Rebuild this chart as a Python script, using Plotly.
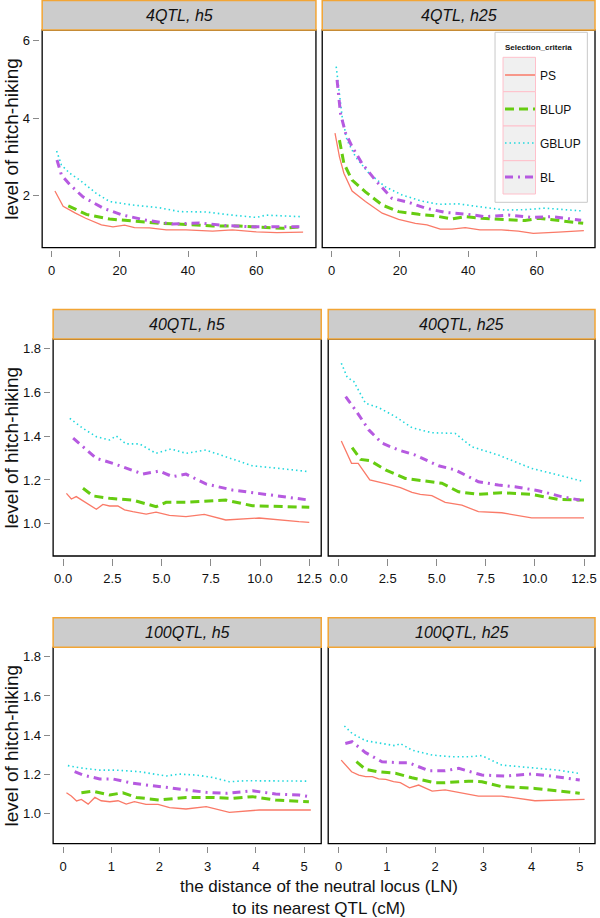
import plotly.graph_objects as go

W, H = 600, 918
FONT = "Liberation Sans, Arial, Helvetica, sans-serif"

methods = ["PS", "BLUP", "GBLUP", "BL"]
panel_titles = ["4QTL, h5", "4QTL, h25", "40QTL, h5", "40QTL, h25", "100QTL, h5", "100QTL, h25"]

# ---------------- data: 4QTL, h5 ----------------
q4h5_ps_x = [1, 3.4, 7, 10, 14.6, 18, 21.4, 24.3, 28.7, 33.6, 39.4, 47.2, 53, 60, 66, 73.7]
q4h5_ps_y = [2.12, 1.73, 1.55, 1.42, 1.25, 1.20, 1.24, 1.18, 1.17, 1.12, 1.12, 1.09, 1.12, 1.07, 1.05, 1.06]
q4h5_blup_x = [4.9, 10.2, 17, 23.8, 31.6, 39.4, 47.2, 55, 62.8, 67.6, 73.5]
q4h5_blup_y = [1.74, 1.52, 1.40, 1.35, 1.29, 1.26, 1.22, 1.22, 1.19, 1.16, 1.20]
q4h5_gblup_x = [1.5, 2.9, 5.3, 8.3, 13.1, 17, 23.8, 31.6, 37.5, 45.2, 53, 60, 62.8, 69.6, 73]
q4h5_gblup_y = [3.15, 2.79, 2.58, 2.40, 2.06, 1.85, 1.76, 1.69, 1.59, 1.58, 1.50, 1.44, 1.50, 1.48, 1.46]
q4h5_bl_x = [1.6, 2.9, 5.3, 9.2, 15.1, 20.9, 27.7, 35.5, 43.3, 51.1, 58.9, 65.7, 73]
q4h5_bl_y = [2.92, 2.53, 2.29, 1.97, 1.68, 1.50, 1.37, 1.27, 1.30, 1.23, 1.20, 1.20, 1.20]

# ---------------- data: 4QTL, h25 ----------------
q4h25_ps_x = [1.0, 2.3, 3.6, 6.0, 9.9, 14.8, 19.6, 24.5, 27.9, 31.8, 35.2, 39.1, 43.4, 49.7, 54.6, 59, 66.3, 73.8]
q4h25_ps_y = [3.61, 3.00, 2.58, 2.12, 1.85, 1.55, 1.39, 1.29, 1.25, 1.14, 1.14, 1.18, 1.12, 1.12, 1.09, 1.03, 1.06, 1.10]
q4h25_blup_x = [2.3, 3.6, 6.0, 9.9, 14.8, 19.6, 25.5, 30.3, 35.2, 39.1, 43.9, 49.7, 56.6, 60.4, 66.3, 73.6]
q4h25_blup_y = [3.43, 2.83, 2.40, 2.10, 1.76, 1.59, 1.52, 1.48, 1.40, 1.46, 1.42, 1.40, 1.36, 1.42, 1.36, 1.29]
q4h25_gblup_x = [1.35, 2.1, 3.1, 4.5, 7.0, 10.9, 15.7, 20.6, 26.4, 31.3, 37.1, 42.9, 50.7, 56.6, 62.4, 68.2, 73]
q4h25_gblup_y = [5.32, 4.72, 4.03, 3.43, 3.00, 2.58, 2.23, 2.02, 1.86, 1.78, 1.79, 1.72, 1.63, 1.64, 1.68, 1.64, 1.61]
q4h25_bl_x = [1.6, 2.6, 4.1, 6.0, 8.9, 12.8, 17.7, 22.5, 27.4, 33.2, 40, 44.9, 51.7, 58.5, 64.3, 73]
q4h25_bl_y = [4.98, 4.12, 3.61, 3.26, 2.83, 2.40, 1.93, 1.83, 1.68, 1.57, 1.52, 1.46, 1.50, 1.44, 1.46, 1.37]

# ---------------- data: 40QTL, h5 ----------------
q40h5_ps_x = [0.17, 0.42, 0.67, 1.18, 1.69, 2.02, 2.36, 2.78, 3.12, 3.54, 4.22, 4.72, 5.40, 6.24, 7.17, 8.26, 9.95, 11.97, 12.5]
q40h5_ps_y = [1.139, 1.113, 1.124, 1.093, 1.066, 1.088, 1.081, 1.081, 1.063, 1.055, 1.044, 1.053, 1.038, 1.032, 1.043, 1.017, 1.026, 1.009, 1.006]
q40h5_blup_x = [1.01, 1.52, 2.36, 3.54, 4.72, 5.23, 6.24, 7.42, 8.26, 9.61, 11.13, 12.5]
q40h5_blup_y = [1.162, 1.127, 1.116, 1.108, 1.078, 1.098, 1.098, 1.104, 1.108, 1.082, 1.078, 1.075]
q40h5_gblup_x = [0.34, 1.01, 1.69, 2.36, 2.70, 3.20, 3.88, 4.72, 5.48, 6.24, 7.25, 8.26, 9.61, 10.96, 12.5]
q40h5_gblup_y = [1.482, 1.436, 1.398, 1.383, 1.401, 1.365, 1.365, 1.322, 1.342, 1.322, 1.337, 1.307, 1.265, 1.253, 1.238]
q40h5_bl_x = [0.51, 1.18, 1.69, 2.53, 3.20, 4.05, 4.89, 5.56, 6.24, 7.25, 8.60, 9.95, 11.3, 12.5]
q40h5_bl_y = [1.391, 1.337, 1.299, 1.276, 1.253, 1.227, 1.241, 1.215, 1.227, 1.182, 1.154, 1.139, 1.124, 1.108]

# ---------------- data: 40QTL, h25 ----------------
q40h25_ps_x = [0.14, 0.66, 1.0, 1.59, 2.55, 3.15, 3.74, 4.16, 4.75, 5.43, 6.28, 7.12, 8.31, 9.83, 12.5]
q40h25_ps_y = [1.378, 1.276, 1.276, 1.200, 1.180, 1.165, 1.143, 1.134, 1.128, 1.098, 1.085, 1.055, 1.050, 1.027, 1.027]
q40h25_blup_x = [0.69, 1.12, 1.62, 2.39, 3.4, 3.99, 5.26, 6.11, 7.12, 8.31, 9.83, 11.18, 12.5]
q40h25_blup_y = [1.348, 1.294, 1.288, 1.246, 1.207, 1.200, 1.185, 1.146, 1.134, 1.142, 1.134, 1.111, 1.108]
q40h25_gblup_x = [0.14, 0.44, 0.78, 1.37, 2.05, 2.89, 3.74, 4.75, 5.94, 6.78, 8.14, 9.83, 11.18, 12.5]
q40h25_gblup_y = [1.734, 1.670, 1.650, 1.551, 1.531, 1.490, 1.439, 1.416, 1.413, 1.352, 1.314, 1.253, 1.223, 1.192]
q40h25_bl_x = [0.36, 0.86, 1.54, 2.22, 3.06, 3.91, 5.09, 5.94, 7.12, 8.14, 8.98, 10.17, 11.35, 12.28]
q40h25_bl_y = [1.581, 1.520, 1.429, 1.368, 1.337, 1.314, 1.265, 1.246, 1.192, 1.177, 1.169, 1.151, 1.124, 1.108]

# ---------------- data: 100QTL, h5 ----------------
q100h5_ps_x = [0.07, 0.17, 0.28, 0.38, 0.52, 0.66, 0.79, 0.97, 1.14, 1.31, 1.48, 1.72, 1.97, 2.21, 2.55, 2.97, 3.45, 4.07, 4.9, 5.14]
q100h5_ps_y = [1.107, 1.090, 1.065, 1.073, 1.049, 1.083, 1.066, 1.061, 1.066, 1.049, 1.061, 1.048, 1.048, 1.031, 1.024, 1.036, 1.007, 1.019, 1.019, 1.019]
q100h5_blup_x = [0.38, 0.62, 0.97, 1.24, 1.52, 2.0, 2.55, 3.1, 3.52, 3.93, 4.41, 4.9, 5.1]
q100h5_blup_y = [1.107, 1.115, 1.095, 1.107, 1.083, 1.070, 1.083, 1.083, 1.078, 1.087, 1.070, 1.061, 1.061]
q100h5_gblup_x = [0.1, 0.34, 0.76, 1.1, 1.59, 2.14, 2.41, 2.76, 3.1, 3.45, 3.79, 4.48, 5.1]
q100h5_gblup_y = [1.245, 1.234, 1.222, 1.222, 1.214, 1.192, 1.202, 1.197, 1.185, 1.163, 1.168, 1.168, 1.166]
q100h5_bl_x = [0.24, 0.41, 0.76, 1.03, 1.45, 2.0, 2.48, 2.97, 3.38, 3.93, 4.41, 4.9, 5.1]
q100h5_bl_y = [1.214, 1.197, 1.177, 1.177, 1.155, 1.138, 1.124, 1.109, 1.104, 1.117, 1.100, 1.095, 1.087]

# ---------------- data: 100QTL, h25 ----------------
q100h25_ps_x = [0.055, 0.27, 0.42, 0.56, 0.70, 0.83, 0.98, 1.14, 1.28, 1.47, 1.66, 1.94, 2.21, 2.62, 2.90, 3.38, 4.07, 5.1]
q100h25_ps_y = [1.273, 1.214, 1.197, 1.189, 1.189, 1.177, 1.175, 1.163, 1.158, 1.132, 1.146, 1.115, 1.121, 1.104, 1.090, 1.090, 1.066, 1.073]
q100h25_blup_x = [0.37, 0.56, 0.8, 1.18, 1.52, 2.0, 2.21, 2.69, 2.97, 3.38, 4.07, 4.55, 5.0]
q100h25_blup_y = [1.265, 1.226, 1.214, 1.206, 1.183, 1.158, 1.158, 1.166, 1.163, 1.138, 1.129, 1.117, 1.104]
q100h25_gblup_x = [0.12, 0.28, 0.56, 0.83, 1.18, 1.28, 1.52, 1.94, 2.35, 2.69, 2.97, 3.38, 4.0, 4.55, 5.0]
q100h25_gblup_y = [1.447, 1.409, 1.372, 1.362, 1.346, 1.358, 1.324, 1.299, 1.290, 1.290, 1.296, 1.248, 1.236, 1.222, 1.205]
q100h25_bl_x = [0.14, 0.28, 0.56, 0.9, 1.25, 1.45, 1.87, 2.21, 2.49, 2.97, 3.45, 4.0, 4.41, 5.0]
q100h25_bl_y = [1.358, 1.367, 1.311, 1.265, 1.26, 1.26, 1.219, 1.219, 1.231, 1.197, 1.192, 1.202, 1.192, 1.172]

# tick values / labels
top_xticks = [0, 20, 40, 60]
top_yticks = [2, 4, 6]
mid_xticks = [0, 2.5, 5, 7.5, 10, 12.5]
mid_xlabels = ["0.0", "2.5", "5.0", "7.5", "10.0", "12.5"]
low_xticks = [0, 1, 2, 3, 4, 5]
hh_yticks = [1.0, 1.2, 1.4, 1.6, 1.8]
hh_ylabels = ["1.0", "1.2", "1.4", "1.6", "1.8"]

panel_data = [
    [(q4h5_ps_x, q4h5_ps_y), (q4h5_blup_x, q4h5_blup_y), (q4h5_gblup_x, q4h5_gblup_y), (q4h5_bl_x, q4h5_bl_y)],
    [(q4h25_ps_x, q4h25_ps_y), (q4h25_blup_x, q4h25_blup_y), (q4h25_gblup_x, q4h25_gblup_y), (q4h25_bl_x, q4h25_bl_y)],
    [(q40h5_ps_x, q40h5_ps_y), (q40h5_blup_x, q40h5_blup_y), (q40h5_gblup_x, q40h5_gblup_y), (q40h5_bl_x, q40h5_bl_y)],
    [(q40h25_ps_x, q40h25_ps_y), (q40h25_blup_x, q40h25_blup_y), (q40h25_gblup_x, q40h25_gblup_y), (q40h25_bl_x, q40h25_bl_y)],
    [(q100h5_ps_x, q100h5_ps_y), (q100h5_blup_x, q100h5_blup_y), (q100h5_gblup_x, q100h5_gblup_y), (q100h5_bl_x, q100h5_bl_y)],
    [(q100h25_ps_x, q100h25_ps_y), (q100h25_blup_x, q100h25_blup_y), (q100h25_gblup_x, q100h25_gblup_y), (q100h25_bl_x, q100h25_bl_y)],
]

styles = {
    "PS": dict(color="#FA7A68", width=1.3, dash="solid"),
    "BLUP": dict(color="#66CC11", width=3, dash="9px,5px"),
    "GBLUP": dict(color="#22D8DD", width=1.6, dash="1.5px,3px"),
    "BL": dict(color="#B65AE0", width=3, dash="8px,5px,2px,5px"),
}

# ---------------- layout geometry (pixels) ----------------
def fx(px):
    return px / W

def fy(py):
    return 1 - py / H

# frame boxes: (left, right, top, bottom) in pixels
frames = [
    (42.3, 317, 30, 247.7), (323.3, 597, 30, 247.7),
    (53.3, 322.3, 339, 556), (329.3, 597, 339, 556),
    (53.3, 322.3, 647.3, 843.7), (329.3, 597, 647.3, 843.7),
]
strip_h = 29.5
# axis ranges matched to pixel calibration (domain extends 2px outside frame for tick gap)
xranges = [(-3.33, 77.46), (-2.74, 77.06), (-0.607, 13.107), (-0.528, 13.06), (-0.248, 5.356), (-0.215, 5.316)]
yranges = [(0.610, 6.265), (0.610, 6.265), (0.843, 1.845), (0.843, 1.845), (0.837, 1.848), (0.837, 1.848)]

fig = go.Figure()
shapes = []
annotations = []
layout_axes = {}

for i in range(6):
    n = i + 1
    xa = "x" if n == 1 else f"x{n}"
    ya = "y" if n == 1 else f"y{n}"
    for m, (xs, ys) in zip(methods, panel_data[i]):
        st = styles[m]
        fig.add_trace(go.Scatter(
            x=xs, y=ys, mode="lines", name=m, xaxis=xa, yaxis=ya,
            legendgroup=m, showlegend=(i == 1),
            line=dict(color=st["color"], width=st["width"], dash=st["dash"]),
        ))
    L, R, T, B = frames[i]
    left_col = (i % 2 == 0)
    dom_left = L - 2 if left_col else L
    row = i // 2
    if row == 0:
        xt, xl = top_xticks, [str(v) for v in top_xticks]
        yt, yl = top_yticks, [str(v) for v in top_yticks]
    elif row == 1:
        xt, xl = mid_xticks, mid_xlabels
        yt, yl = hh_yticks, hh_ylabels
    else:
        xt, xl = low_xticks, [str(v) for v in low_xticks]
        yt, yl = hh_yticks, hh_ylabels
    axis_common = dict(showgrid=False, zeroline=False, showline=False,
                       ticks="outside", ticklen=6.5, tickwidth=1, tickcolor="#8a8a8a",
                       tickfont=dict(family=FONT, size=13, color="#111111"))
    layout_axes[("xaxis" if n == 1 else f"xaxis{n}")] = dict(
        domain=[fx(dom_left), fx(R)], anchor=ya, range=list(xranges[i]),
        tickmode="array", tickvals=xt, ticktext=xl, ticklabelstandoff=2, **axis_common)
    yax = dict(domain=[fy(B + 2), fy(T)], anchor=xa, range=list(yranges[i]),
               tickmode="array", tickvals=yt, ticktext=yl, **axis_common)
    if not left_col:
        yax["ticks"] = ""
        yax["showticklabels"] = False
    layout_axes[("yaxis" if n == 1 else f"yaxis{n}")] = yax

    # panel frame
    shapes.append(dict(type="rect", xref="paper", yref="paper", layer="above",
                       x0=fx(L), x1=fx(R), y0=fy(B), y1=fy(T),
                       line=dict(color="#000000", width=1.3), fillcolor="rgba(0,0,0,0)"))
    # strip
    shapes.append(dict(type="rect", xref="paper", yref="paper", layer="above",
                       x0=fx(L), x1=fx(R), y0=fy(T), y1=fy(T - strip_h),
                       line=dict(color="#F2A535", width=1.5), fillcolor="#CCCCCC"))
    annotations.append(dict(text=f"<i>{panel_titles[i]}</i>", xref="paper", yref="paper",
                            x=fx((L + R) / 2), y=fy(T - strip_h / 2), showarrow=False,
                            xanchor="center", yanchor="middle",
                            font=dict(family=FONT, size=16, color="#111111")))

# y axis titles
for (T, B) in [(30, 247.7), (339, 556), (647.3, 843.7)]:
    annotations.append(dict(text="level of hitch-hiking", xref="paper", yref="paper",
                            x=fx(12), y=fy((T + B) / 2), showarrow=False, textangle=-90,
                            xanchor="center", yanchor="middle",
                            font=dict(family=FONT, size=19, color="#111111")))
# x axis title
annotations.append(dict(text="the distance of the neutral locus (LN)<br>to its nearest QTL (cM)",
                        xref="paper", yref="paper", x=fx(320), y=fy(897), showarrow=False,
                        xanchor="center", yanchor="middle",
                        font=dict(family=FONT, size=17, color="#111111")))

# legend decoration: outer box, title and key boxes
shapes.append(dict(type="rect", xref="paper", yref="paper", layer="above",
                   x0=fx(496.7), x1=fx(589.3), y0=fy(202.3), y1=fy(32.3),
                   line=dict(color="#C8C8C8", width=1), fillcolor="#FFFFFF"))
annotations.append(dict(text="<b>Selection_criteria</b>", xref="paper", yref="paper",
                        x=fx(505), y=fy(47.3), showarrow=False, xanchor="left", yanchor="middle",
                        font=dict(family=FONT, size=8, color="#111111")))
key_edges = [57.3, 91.7, 126, 160.7, 194]
for k in range(4):
    shapes.append(dict(type="rect", xref="paper", yref="paper", layer="above",
                       x0=fx(504.7), x1=fx(537.3), y0=fy(key_edges[k + 1]), y1=fy(key_edges[k]),
                       line=dict(color="#FFC0CB", width=1), fillcolor="#F0F0F0"))

fig.update_layout(
    width=W, height=H, margin=dict(l=0, r=0, t=0, b=0),
    paper_bgcolor="#FFFFFF", plot_bgcolor="rgba(0,0,0,0)",
    font=dict(family=FONT, color="#111111"),
    shapes=shapes, annotations=annotations,
    showlegend=True,
    legend=dict(x=fx(501.7), y=fy(60.5), xanchor="left", yanchor="top",
                bgcolor="rgba(0,0,0,0)", borderwidth=0,
                tracegroupgap=15, itemwidth=30,
                font=dict(family=FONT, size=12, color="#111111")),
    **layout_axes,
)

fig.write_html("out.html", config={"displayModeBar": False},
               post_script="document.body.style.margin='0';document.body.style.padding='0';"
                           "document.body.style.overflow='hidden';")
